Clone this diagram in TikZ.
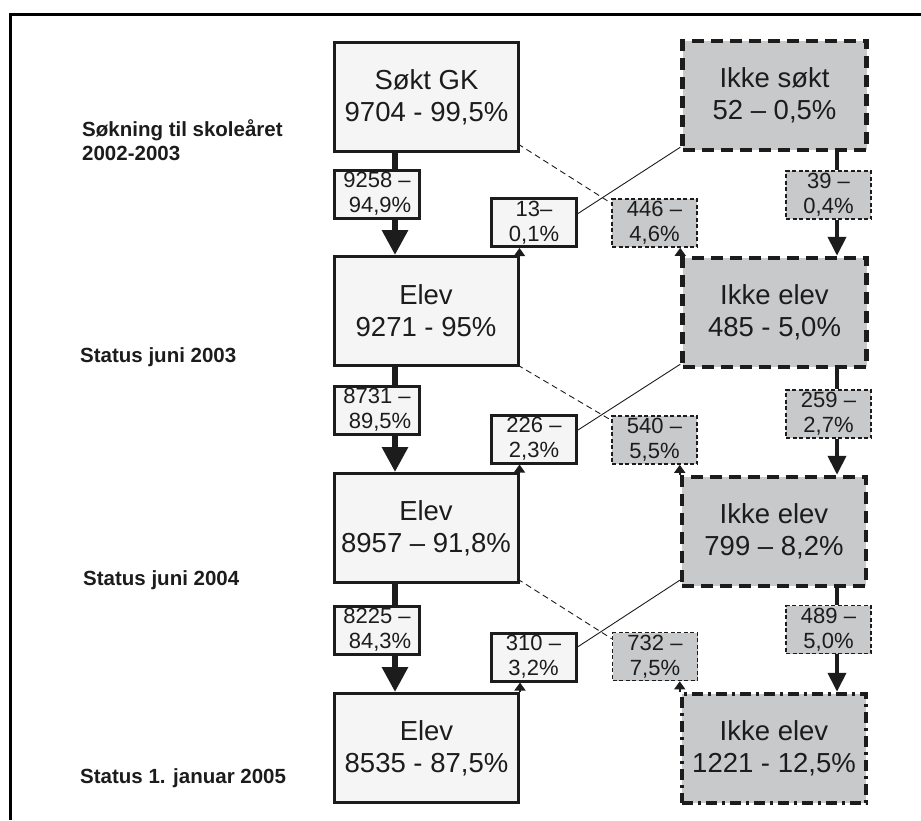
\documentclass[tikz,border=0pt]{standalone}
\usepackage{fontspec}
\setmainfont{Liberation Sans}
\usetikzlibrary{arrows.meta,calc,backgrounds}
\definecolor{lightfill}{RGB}{245,245,245}
\definecolor{grayfill}{RGB}{200,201,203}
\definecolor{ink}{RGB}{28,28,28}
\begin{document}
\begin{tikzpicture}[x=1pt,y=-1pt,
  bigbox/.style={draw=ink, line width=3pt, fill=lightfill, minimum width=184pt, minimum height=109pt, inner sep=0pt, align=center, text=ink, font=\fontsize{27.5}{32}\selectfont},
  grbig/.style={bigbox, fill=grayfill, line width=4.5pt, dash pattern=on 12pt off 7pt},
  grdashdot/.style={bigbox, fill=grayfill, line width=4.5pt, dash pattern=on 11pt off 5pt on 3pt off 5pt},
  smallbox/.style={draw=ink, line width=3pt, fill=lightfill, minimum width=85pt, minimum height=48pt, inner sep=0pt, align=center, text=ink, font=\fontsize{22}{25}\selectfont},
  grsmall/.style={smallbox, fill=grayfill, line width=1.6pt, dash pattern=on 4pt off 2.5pt},
  lbl/.style={anchor=base west, inner sep=0pt, text=ink, font=\bfseries\fontsize{20.5}{24}\selectfont},
  thinline/.style={draw=ink, line width=0.9pt},
  thindash/.style={draw=ink, line width=0.9pt, dash pattern=on 6pt off 4pt},
  bigshaft/.style={draw=ink, line width=6pt},
  rshaft/.style={draw=ink, line width=4pt},
  uptip/.style={draw=ink, line width=1.5pt, -{Triangle[width=11pt,length=8pt]}}
]
\useasboundingbox (0,0) rectangle (921,820);
\draw[line width=3pt] (10.5,820) -- (10.5,14.5) -- (921,14.5);

% left column big boxes
\node[bigbox] (A0) at (426.5,97) {Søkt GK\\9704 - 99,5\%};
\node[bigbox] (A1) at (426,311) {Elev\\9271 - 95\%};
\node[bigbox] (A2) at (426,528) {Elev\\8957 – 91,8\%};
\node[bigbox] (A3) at (426.5,748) {Elev\\8535 - 87,5\%};

% right column big boxes
\node[grbig] (B0) at (774.5,95.5) {Ikke søkt\\52 – 0,5\%};
\node[grbig] (B1) at (774.5,312.5) {Ikke elev\\485 - 5,0\%};
\node[grbig] (B2) at (774,531.5) {Ikke elev\\799 – 8,2\%};
\node[grdashdot] (B3) at (774,748.5) {Ikke elev\\1221 - 12,5\%};

% left small boxes
\node[smallbox] (L0) at (377,194) {9258 –\\\ 94,9\%};
\node[smallbox] (L1) at (377,410) {8731 –\\\ 89,5\%};
\node[smallbox] (L2) at (377,630) {8225 –\\\ 84,3\%};

% middle boxes
\node[smallbox] (M0) at (534,222.5) {13–\\0,1\%};
\node[smallbox] (M1) at (534,439) {226 –\\2,3\%};
\node[smallbox] (M2) at (533.5,657) {310 –\\3,2\%};

% middle gray boxes
\node[grsmall] (N0) at (654.5,223) {446 –\\4,6\%};
\node[grsmall] (N1) at (654.5,440) {540 –\\5,5\%};
\node[grsmall] (N2) at (655,656.5) {732 –\\7,5\%};

% right small boxes
\node[grsmall] (R0) at (828.5,195) {39 –\\0,4\%};
\node[grsmall] (R1) at (828.5,414) {259 –\\2,7\%};
\node[grsmall] (R2) at (828.5,629.5) {489 –\\5,0\%};

% labels
\node[lbl] (T0a) at (82,136) {Søkning til skoleåret};
\node[lbl] (T0b) at (82,160) {2002-2003};
\node[lbl] (T1) at (80,362) {Status juni 2003};
\node[lbl] (T2) at (83,585) {Status juni 2004};
\node[lbl] (T3) at (80,783) {Status 1. januar 2005};

\begin{scope}[on background layer]
% left flow
\draw[bigshaft] (A0.south -| 395,0) -- (L0.north -| 395,0);
\draw[bigshaft] (A1.south -| 395,0) -- (L1.north -| 395,0);
\draw[bigshaft] (A2.south -| 395,0) -- (L2.north -| 395,0);
% right flow
\draw[rshaft] (B0.south -| 837,0) -- (R0.north -| 837,0);
\draw[rshaft] (B1.south -| 837,0) -- (R1.north -| 837,0);
\draw[rshaft] (B2.south -| 837,0) -- (R2.north -| 837,0);
% crossing lines
\draw[thinline] ($(M0.east)+(0,-9)$) -- ($(B0.south west)+(0,-5)$);
\draw[thinline] ($(M1.east)+(0,-9)$) -- ($(B1.south west)+(0,-5)$);
\draw[thinline] ($(M2.east)+(0,-10)$) -- ($(B2.south west)+(0,-8)$);
\draw[thindash] ($(A0.south east)+(-2,-9)$) -- ($(N0.north west)+(0,5)$);
\draw[thindash] ($(A1.south east)+(-2,-2)$) -- ($(N1.north west)+(0,5)$);
\draw[thindash] ($(A2.south east)+(-2,-5)$) -- ($(N2.north west)+(0,7)$);
\end{scope}

% big arrow heads
\draw[bigshaft,-{Triangle[width=25pt,length=25pt]}] (L0.south -| 395,0) -- (A1.north -| 395,0);
\draw[bigshaft,-{Triangle[width=25pt,length=25pt]}] (L1.south -| 395,0) -- (A2.north -| 395,0);
\draw[bigshaft,-{Triangle[width=25pt,length=25pt]}] (L2.south -| 395,0) -- (A3.north -| 395,0);
\draw[rshaft,-{Triangle[width=18pt,length=19pt]}] (R0.south -| 837,0) -- (B1.north -| 837,0);
\draw[rshaft,-{Triangle[width=18pt,length=19pt]}] (R1.south -| 837,0) -- (B2.north -| 837,0);
\draw[rshaft,-{Triangle[width=18pt,length=19pt]}] (R2.south -| 837,0) -- (B3.north -| 837,0);

% small up arrows
\draw[uptip] (A1.north east) -- (A1.north east |- M0.south);
\draw[uptip] (A2.north east) -- (A2.north east |- M1.south);
\draw[uptip] (A3.north east) -- (A3.north east |- M2.south);
\draw[uptip] (B1.north west) -- (B1.north west |- N0.south);
\draw[uptip] (B2.north west) -- (B2.north west |- N1.south);
\draw[uptip] (B3.north west) -- (B3.north west |- N2.south);
\end{tikzpicture}
\end{document}
